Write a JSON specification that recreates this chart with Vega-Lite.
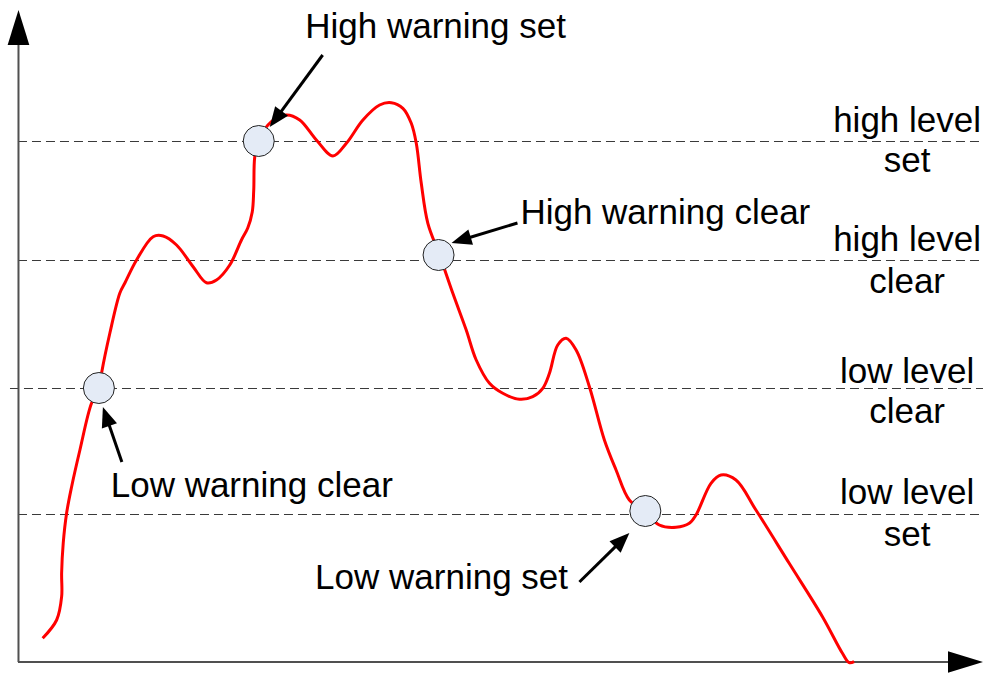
{
  "$schema": "https://vega.github.io/schema/vega-lite/v6.json",
  "width": 984,
  "height": 673,
  "padding": 0,
  "autosize": {"type": "fit", "contains": "padding"},
  "background": "white",
  "config": {"view": {"stroke": null}},
  "datasets": {
    "curve": [
      {"t": 24.7, "v": 23.7}, {"t": 38.7, "v": 42}, {"t": 43.7, "v": 65.3}, {"t": 43.7, "v": 89},
      {"t": 45.3, "v": 119}, {"t": 48.7, "v": 149}, {"t": 53.7, "v": 175.3}, {"t": 62, "v": 212},
      {"t": 73.7, "v": 259}, {"t": 81.3, "v": 273}, {"t": 83.7, "v": 289}, {"t": 92, "v": 329},
      {"t": 102, "v": 369}, {"t": 107, "v": 379}, {"t": 118.7, "v": 402}, {"t": 135.3, "v": 425.3},
      {"t": 145.3, "v": 426}, {"t": 158.7, "v": 417}, {"t": 175.3, "v": 395.3}, {"t": 188.7, "v": 379.3},
      {"t": 198.7, "v": 382}, {"t": 212, "v": 397}, {"t": 223.7, "v": 422}, {"t": 230, "v": 434},
      {"t": 234.5, "v": 450}, {"t": 236, "v": 472}, {"t": 237, "v": 505}, {"t": 241, "v": 522},
      {"t": 253.7, "v": 540.3}, {"t": 268.7, "v": 547}, {"t": 282, "v": 542}, {"t": 298.7, "v": 522},
      {"t": 315.3, "v": 506}, {"t": 328.7, "v": 518.7}, {"t": 345.3, "v": 542}, {"t": 362, "v": 557},
      {"t": 373.7, "v": 559.3}, {"t": 385.3, "v": 553.7}, {"t": 393.7, "v": 538.7}, {"t": 398.7, "v": 518.7},
      {"t": 403.7, "v": 478.7}, {"t": 410.3, "v": 438.7}, {"t": 422, "v": 407}, {"t": 435.3, "v": 368.7},
      {"t": 448.7, "v": 332}, {"t": 458.7, "v": 302}, {"t": 472, "v": 278.7}, {"t": 485.3, "v": 268.7},
      {"t": 502, "v": 262.7}, {"t": 515.3, "v": 265.3}, {"t": 525.3, "v": 273.7}, {"t": 532, "v": 288.7},
      {"t": 540.3, "v": 317}, {"t": 548.7, "v": 323.7}, {"t": 558.7, "v": 312}, {"t": 572, "v": 275.3},
      {"t": 587, "v": 222}, {"t": 598.7, "v": 192}, {"t": 612, "v": 162}, {"t": 628, "v": 150.3},
      {"t": 642, "v": 137}, {"t": 658.7, "v": 134.7}, {"t": 672, "v": 138.7}, {"t": 678.7, "v": 147},
      {"t": 693.7, "v": 178.7}, {"t": 703.7, "v": 187}, {"t": 718.7, "v": 182}, {"t": 738.7, "v": 152},
      {"t": 772, "v": 98.7}, {"t": 805.3, "v": 45.3}, {"t": 825.3, "v": 8.7}, {"t": 832, "v": -0.7},
      {"t": 837, "v": 0.3}
    ],
    "levels": [
      {"level": "high level set", "v": 520.5, "t0": 0, "t1": 966},
      {"level": "high level clear", "v": 401.5, "t0": 0, "t1": 966},
      {"level": "low level clear", "v": 273.5, "t0": -8, "t1": 966},
      {"level": "low level set", "v": 147.5, "t0": 0, "t1": 966}
    ],
    "labels": [
      {"t": 890, "v": 541, "text": "high level"},
      {"t": 890, "v": 501, "text": "set"},
      {"t": 890, "v": 422, "text": "high level"},
      {"t": 890, "v": 380, "text": "clear"},
      {"t": 890, "v": 290, "text": "low level"},
      {"t": 890, "v": 250, "text": "clear"},
      {"t": 890, "v": 169, "text": "low level"},
      {"t": 890, "v": 127, "text": "set"},
      {"t": 418, "v": 635, "text": "High warning set"},
      {"t": 648, "v": 449, "text": "High warning clear"},
      {"t": 234, "v": 176, "text": "Low warning clear"},
      {"t": 424, "v": 84, "text": "Low warning set"}
    ],
    "circles": [
      {"event": "Low warning clear", "t": 81, "v": 274},
      {"event": "High warning set", "t": 241, "v": 521},
      {"event": "High warning clear", "t": 421, "v": 407},
      {"event": "Low warning set", "t": 628, "v": 151}
    ],
    "arrows": [
      {"event": "High warning set", "t": 305, "v": 607, "t2": 252, "v2": 535},
      {"event": "High warning clear", "t": 500, "v": 439, "t2": 434, "v2": 419},
      {"event": "Low warning clear", "t": 104, "v": 200, "t2": 85, "v2": 255},
      {"event": "Low warning set", "t": 562, "v": 80, "t2": 612, "v2": 129}
    ],
    "axes": [
      {"axis": "y", "t": 0.5, "v": 0, "t2": 0.5, "v2": 652},
      {"axis": "x", "t": 0, "v": 0, "t2": 966, "v2": 0}
    ]
  },
  "layer": [
    {
      "data": {"name": "levels"},
      "mark": {"type": "rule", "color": "#3a3a3a", "strokeWidth": 1.2, "strokeDash": [9, 5]},
      "encoding": {
        "x": {"field": "t0", "type": "quantitative", "scale": {"domain": [-18, 966], "nice": false, "zero": false}, "axis": null},
        "x2": {"field": "t1"},
        "y": {"field": "v", "type": "quantitative", "scale": {"domain": [-11, 662], "nice": false, "zero": false}, "axis": null}
      }
    },
    {
      "data": {"name": "axes"},
      "transform": [
        {"calculate": "sqrt(pow(datum.t2 - datum.t, 2) + pow(datum.v2 - datum.v, 2))", "as": "len"},
        {"calculate": "datum.t2 - (datum.t2 - datum.t) * 30 / datum.len", "as": "te"},
        {"calculate": "datum.v2 - (datum.v2 - datum.v) * 30 / datum.len", "as": "ve"}
      ],
      "mark": {"type": "rule", "color": "#505050", "strokeWidth": 2},
      "encoding": {
        "x": {"field": "t", "type": "quantitative", "scale": {"domain": [-18, 966], "nice": false, "zero": false}, "axis": null},
        "x2": {"field": "te"},
        "y": {"field": "v", "type": "quantitative", "scale": {"domain": [-11, 662], "nice": false, "zero": false}, "axis": null},
        "y2": {"field": "ve"}
      }
    },
    {
      "data": {"name": "axes"},
      "transform": [
        {"calculate": "atan2(datum.t2 - datum.t, datum.v2 - datum.v) * 180 / PI", "as": "ang"}
      ],
      "mark": {"type": "point", "shape": "M0,0L-0.31,1L0.31,1Z", "size": 4900, "filled": true, "color": "#000000", "opacity": 1, "strokeWidth": 0},
      "encoding": {
        "x": {"field": "t2", "type": "quantitative", "scale": {"domain": [-18, 966], "nice": false, "zero": false}, "axis": null},
        "y": {"field": "v2", "type": "quantitative", "scale": {"domain": [-11, 662], "nice": false, "zero": false}, "axis": null},
        "angle": {"field": "ang", "type": "quantitative", "scale": null}
      }
    },
    {
      "data": {"name": "curve"},
      "mark": {"type": "line", "color": "#ff0000", "strokeWidth": 3, "interpolate": "catmull-rom"},
      "encoding": {
        "x": {"field": "t", "type": "quantitative", "scale": {"domain": [-18, 966], "nice": false, "zero": false}, "axis": null},
        "y": {"field": "v", "type": "quantitative", "scale": {"domain": [-11, 662], "nice": false, "zero": false}, "axis": null},
        "order": {"value": null}
      }
    },
    {
      "data": {"name": "circles"},
      "mark": {"type": "point", "shape": "circle", "size": 961, "filled": true, "fill": "#e4ebf6", "stroke": "#222222", "strokeWidth": 1, "opacity": 1},
      "encoding": {
        "x": {"field": "t", "type": "quantitative", "scale": {"domain": [-18, 966], "nice": false, "zero": false}, "axis": null},
        "y": {"field": "v", "type": "quantitative", "scale": {"domain": [-11, 662], "nice": false, "zero": false}, "axis": null}
      }
    },
    {
      "data": {"name": "arrows"},
      "transform": [
        {"calculate": "sqrt(pow(datum.t2 - datum.t, 2) + pow(datum.v2 - datum.v, 2))", "as": "len"},
        {"calculate": "datum.t2 - (datum.t2 - datum.t) * 12 / datum.len", "as": "te"},
        {"calculate": "datum.v2 - (datum.v2 - datum.v) * 12 / datum.len", "as": "ve"}
      ],
      "mark": {"type": "rule", "color": "#000000", "strokeWidth": 3},
      "encoding": {
        "x": {"field": "t", "type": "quantitative", "scale": {"domain": [-18, 966], "nice": false, "zero": false}, "axis": null},
        "x2": {"field": "te"},
        "y": {"field": "v", "type": "quantitative", "scale": {"domain": [-11, 662], "nice": false, "zero": false}, "axis": null},
        "y2": {"field": "ve"}
      }
    },
    {
      "data": {"name": "arrows"},
      "transform": [
        {"calculate": "atan2(datum.t2 - datum.t, datum.v2 - datum.v) * 180 / PI", "as": "ang"}
      ],
      "mark": {"type": "point", "shape": "M0,0L-0.4,1L0.4,1Z", "size": 1600, "filled": true, "color": "#000000", "opacity": 1, "strokeWidth": 0},
      "encoding": {
        "x": {"field": "t2", "type": "quantitative", "scale": {"domain": [-18, 966], "nice": false, "zero": false}, "axis": null},
        "y": {"field": "v2", "type": "quantitative", "scale": {"domain": [-11, 662], "nice": false, "zero": false}, "axis": null},
        "angle": {"field": "ang", "type": "quantitative", "scale": null}
      }
    },
    {
      "data": {"name": "labels"},
      "mark": {"type": "text", "font": "Liberation Sans", "fontSize": 35, "align": "center", "baseline": "middle", "color": "#000000"},
      "encoding": {
        "x": {"field": "t", "type": "quantitative", "scale": {"domain": [-18, 966], "nice": false, "zero": false}, "axis": null},
        "y": {"field": "v", "type": "quantitative", "scale": {"domain": [-11, 662], "nice": false, "zero": false}, "axis": null},
        "text": {"field": "text", "type": "nominal"}
      }
    }
  ]
}
